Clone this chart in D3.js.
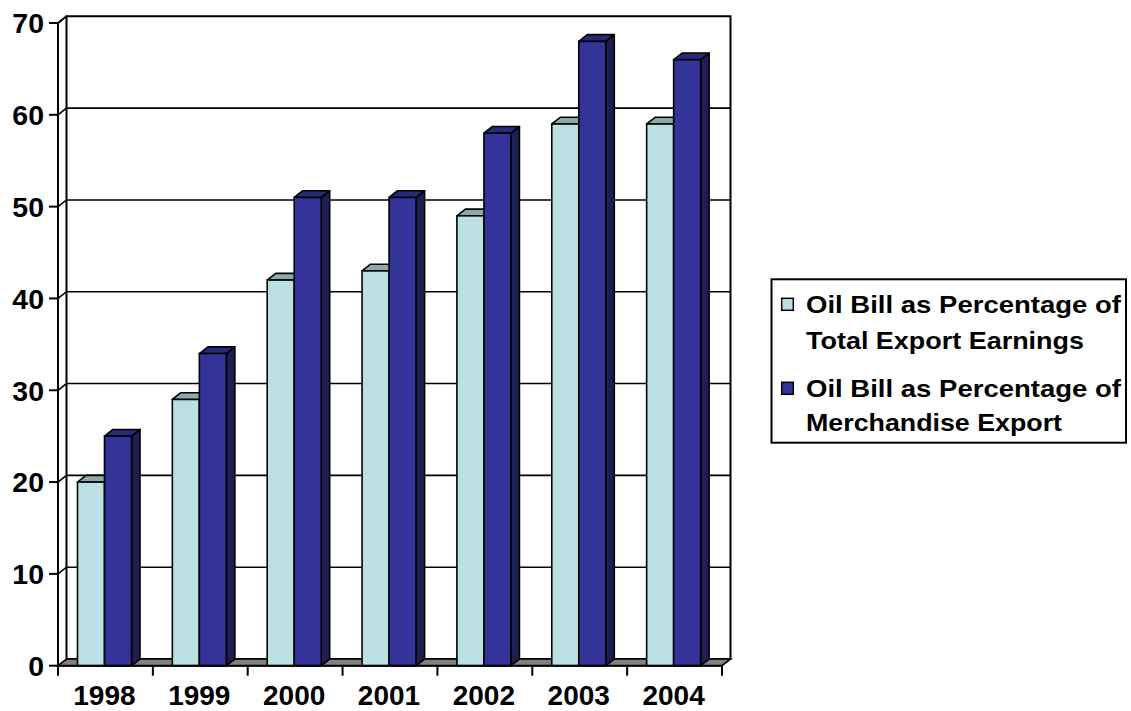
<!DOCTYPE html>
<html>
<head>
<meta charset="utf-8">
<script src="https://cdn.jsdelivr.net/npm/d3@7"></script>
<style>
  html, body { margin: 0; padding: 0; background: #fff; }
  svg { display: block; }
  text { font-family: "Liberation Sans", Arial, sans-serif; font-weight: bold; fill: #000; }
</style>
</head>
<body>
<svg id="chart" width="1131" height="711"></svg>
<script>
// ---- data ----
const years = ["1998", "1999", "2000", "2001", "2002", "2003", "2004"];
const seriesNames = ["Oil Bill as Percentage of Total Export Earnings",
                     "Oil Bill as Percentage of Merchandise Export"];
const totalExportEarnings = [20, 29, 42, 43, 49, 59, 59];
const merchandiseExport   = [25, 34, 51, 51, 58, 68, 66];
const yTicks = [0, 10, 20, 30, 40, 50, 60, 70];
const legendLines = [["Oil Bill as Percentage of", "Total Export Earnings"],
                     ["Oil Bill as Percentage of", "Merchandise Export"]];

const seriesValues = [totalExportEarnings, merchandiseExport];
const colors = [
  { front: "#BBE0E3", top: "#8AAAAC", side: "#7E9C9E" },
  { front: "#333399", top: "#29297A", side: "#1E1E52" }
];

const svg = d3.select("#chart");
const DX = 8.5, DY = -6.7;           // oblique depth offset
const x0 = 58, x1 = 722;
const y = d3.scaleLinear().domain([0, 70]).range([665.7, 23]);
const x = d3.scaleBand().domain(years).range([x0, x1]).padding(0);
const xs = d3.scaleBand().domain([0, 1]).range([19.5, 73.5]).padding(0);

const g = svg.append("g");
const line = (pts) => "M" + pts.map(p => p.join(",")).join("L") + "Z";
const open = (pts) => "M" + pts.map(p => p.join(",")).join("L");

// back wall
const yB = v => y(v) + DY;
g.append("path")
  .attr("d", line([[x0 + DX, yB(70)], [x1 + DX, yB(70)], [x1 + DX, yB(0)], [x0 + DX, yB(0)]]))
  .attr("fill", "#fff").attr("stroke", "#000").attr("stroke-width", 2);

// gridlines on back wall + side wall
yTicks.filter(v => v > 0 && v < 70).forEach(v => {
  g.append("path").attr("d", open([[x0, y(v)], [x0 + DX, yB(v)], [x1 + DX, yB(v)]]))
    .attr("fill", "none").attr("stroke", "#000").attr("stroke-width", 1.6);
});
// side wall outline
g.append("path").attr("d", open([[x0, y(0)], [x0, y(70)], [x0 + DX, yB(70)]]))
  .attr("fill", "none").attr("stroke", "#000").attr("stroke-width", 2);

// floor
g.append("path")
  .attr("d", line([[x0, y(0)], [x1, y(0)], [x1 + DX, yB(0)], [x0 + DX, yB(0)]]))
  .attr("fill", "#808080").attr("stroke", "#000").attr("stroke-width", 1.6);

// bars
years.forEach((yr, i) => {
  seriesValues.forEach((vals, s) => {
    const v = vals[i];
    const L = x(yr) + xs(s), R = L + xs.bandwidth();
    const T = y(v), B = y(0);
    const c = colors[s];
    g.append("path").attr("d", line([[R, T], [R + DX, T + DY], [R + DX, B + DY], [R, B]]))
      .attr("fill", c.side).attr("stroke", "#000").attr("stroke-width", 1.6).attr("stroke-linejoin", "round");
    g.append("path").attr("d", line([[L, T], [L + DX, T + DY], [R + DX, T + DY], [R, T]]))
      .attr("fill", c.top).attr("stroke", "#000").attr("stroke-width", 1.6).attr("stroke-linejoin", "round");
    g.append("rect").attr("x", L).attr("y", T).attr("width", R - L).attr("height", B - T)
      .attr("fill", c.front).attr("stroke", "#000").attr("stroke-width", 1.6);
  });
});

// axes
g.append("line").attr("x1", x0).attr("x2", x1).attr("y1", y(0)).attr("y2", y(0))
  .attr("stroke", "#000").attr("stroke-width", 2);
g.append("line").attr("x1", x0).attr("x2", x0).attr("y1", y(0)).attr("y2", y(70))
  .attr("stroke", "#000").attr("stroke-width", 2);

// y ticks
yTicks.forEach(v => {
  g.append("line").attr("x1", 49).attr("x2", x0).attr("y1", y(v)).attr("y2", y(v))
    .attr("stroke", "#000").attr("stroke-width", 2);
  g.append("text").attr("x", 44).attr("y", y(v) + 10.3).attr("text-anchor", "end")
    .attr("font-size", 28.5).text(v);
});

// x ticks (band boundaries)
years.concat(["end"]).forEach((yr, i) => {
  const px = i < years.length ? x(yr) : x1;
  g.append("line").attr("x1", px).attr("x2", px).attr("y1", y(0)).attr("y2", y(0) + 10)
    .attr("stroke", "#000").attr("stroke-width", 2);
});
years.forEach(yr => {
  g.append("text").attr("x", x(yr) + x.bandwidth() / 2 - 1).attr("y", 705)
    .attr("text-anchor", "middle").attr("font-size", 28).text(yr);
});

// legend
const lg = svg.append("g");
lg.append("rect").attr("x", 771.5).attr("y", 279.3).attr("width", 354.5).attr("height", 163.4)
  .attr("fill", "#fff").attr("stroke", "#000").attr("stroke-width", 2);
const legendBase = [[313, 349], [397, 431]];
const legendWidths = [[315, 278], [315, 256]];
legendLines.forEach((lines, s) => {
  lg.append("rect").attr("x", 781.7).attr("y", legendBase[s][0] - 14.7).attr("width", 11.6).attr("height", 12)
    .attr("fill", colors[s].front).attr("stroke", "#000").attr("stroke-width", 1.5);
  lines.forEach((t, k) => {
    lg.append("text").attr("x", 806).attr("y", legendBase[s][k])
      .attr("font-size", 24)
      .attr("textLength", legendWidths[s][k]).attr("lengthAdjust", "spacingAndGlyphs")
      .text(t);
  });
});
</script>
</body>
</html>
